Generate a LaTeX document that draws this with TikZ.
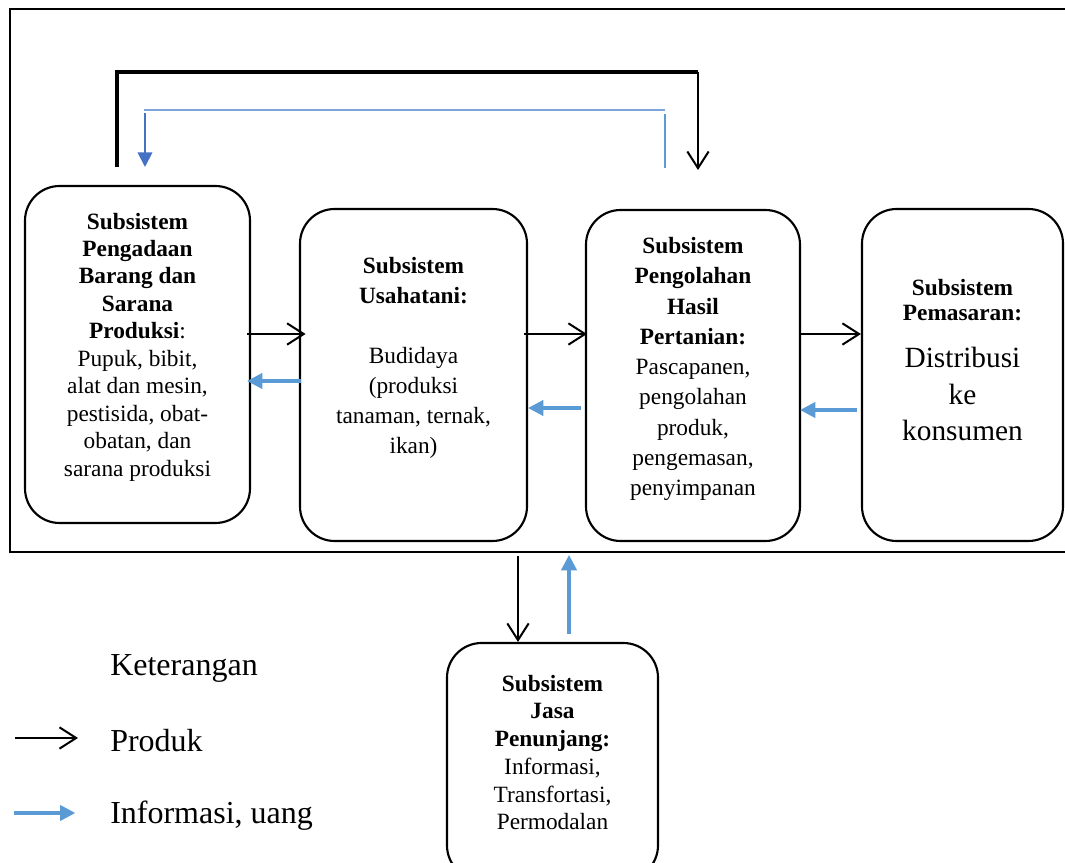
\documentclass[tikz,border=0pt]{standalone}
\usepackage{fontspec}
\setmainfont{Liberation Serif}
\usetikzlibrary{arrows.meta,calc,positioning}
\definecolor{infoblue}{RGB}{91,155,213}
\definecolor{lineblue}{RGB}{125,165,215}
\definecolor{darkblue}{RGB}{68,114,196}

\begin{document}
\begin{tikzpicture}[x=0.75pt,y=-0.75pt]
\tikzstyle{sub} = [draw=black,line width=1.6pt,rounded corners=26pt,inner sep=0pt]
\tikzstyle{txt} = [align=center,inner sep=0pt]
\tikzset{prod/.style={black,line width=1.5pt,-{Straight Barb[length=12.5pt,width=16pt,line width=1.5pt]}}}
\tikzset{info/.style={infoblue,line width=2.4pt,-{Triangle[length=11.5pt,width=11.5pt]}}}
\useasboundingbox (0,0) rectangle (1065,863);
\draw[line width=1.1pt] (10,9) rectangle (1075,552);

    % kotak subsistem
    \node[sub,minimum width=168.75pt,minimum height=252.75pt] (pengadaan) at (137.5,354.5) {};
    \node[sub,minimum width=170.25pt,minimum height=249pt] (usahatani) at (413.5,375) {};
    \node[sub,minimum width=160.5pt,minimum height=248.25pt] (pengolahan) at (693,375.5) {};
    \node[sub,minimum width=150.75pt,minimum height=249pt] (pemasaran) at (962.5,375) {};
    \node[sub,minimum width=158.25pt,minimum height=177.75pt] (jasa) at (552.5,761.5) {};

    \node[txt,font=\fontsize{17.5}{20.6}\selectfont] (tpengadaan) at ($(pengadaan.center)+(0,-7.5)$)
      {\textbf{Subsistem}\\ \textbf{Pengadaan}\\ \textbf{Barang dan}\\ \textbf{Sarana}\\ \textbf{Produksi}:\\
       Pupuk, bibit,\\ alat dan mesin,\\ pestisida, obat-\\ obatan, dan\\ sarana produksi};
    \node[txt,font=\fontsize{17.5}{22.5}\selectfont] (tusahatani) at ($(usahatani.center)+(0,-17)$)
      {\textbf{Subsistem}\\ \textbf{Usahatani:}\\[22.5pt] Budidaya\\ (produksi\\ tanaman, ternak,\\ ikan)};
    \node[txt,font=\fontsize{17.5}{22.7}\selectfont] (tpengolahan) at ($(pengolahan.center)+(0,-6.5)$)
      {\textbf{Subsistem}\\ \textbf{Pengolahan}\\ \textbf{Hasil}\\ \textbf{Pertanian:}\\
       Pascapanen,\\ pengolahan\\ produk,\\ pengemasan,\\ penyimpanan};
    \node[txt,font=\fontsize{17.5}{18.75}\selectfont\bfseries] (hpemasaran) at (962.5,300.5)
      {Subsistem\\ Pemasaran:};
    \node[txt,font=\fontsize{22}{27.4}\selectfont] (tpemasaran) at (962.5,394)
      {Distribusi\\ ke\\ konsumen};
    \node[txt,font=\fontsize{17.5}{20.8}\selectfont] (tjasa) at (552.5,752.5)
      {\textbf{Subsistem}\\ \textbf{Jasa}\\ \textbf{Penunjang:}\\ Informasi,\\ Transfortasi,\\ Permodalan};

    % aliran antar subsistem
    \coordinate (ra) at (0,334);
    \coordinate (rb1) at (0,381);
    \coordinate (rb2) at (0,408);
    \coordinate (rb3) at (0,410);
    \draw[prod,shorten <=-3pt,shorten >=-5pt] (pengadaan.east |- ra) -- (usahatani.west |- ra);
    \draw[prod,shorten <=-3pt,shorten >=-1.5pt] (usahatani.east |- ra) -- (pengolahan.west |- ra);
    \draw[prod] (pengolahan.east |- ra) -- (pemasaran.west |- ra);
    \draw[info,shorten <=-1.5pt,shorten >=-3pt] (usahatani.west |- rb1) -- (pengadaan.east |- rb1);
    \draw[info,shorten <=3pt] (pengolahan.west |- rb2) -- (usahatani.east |- rb2);
    \draw[info,shorten <=3pt,shorten >=-0.75pt] (pemasaran.west |- rb3) -- (pengolahan.east |- rb3);

    % aliran atas
    \coordinate (ka) at (117,167);
    \coordinate (kb) at (117,72);
    \coordinate (kc) at (698,72);
    \coordinate (kd) at (698,170);
    \draw[line width=2.6pt] (ka) -- (kb) -- (kc);
    \draw[prod] (kc) -- (kd);
    \coordinate (ia) at (144,110);
    \coordinate (ib) at (665,110);
    \coordinate (ic) at (665,168);
    \coordinate (id) at (665,114);
    \coordinate (ie) at (145,113);
    \coordinate (if) at (145,167);
    \draw[lineblue,line width=1.6pt] (ia) -- (ib);
    \draw[infoblue,line width=1.8pt] (ic) -- (id);
    \draw[darkblue,line width=1.4pt,-{Triangle[length=11pt,width=11pt]}] (ie) -- (if);

    % aliran bawah
    \coordinate (fa) at (518,556);
    \coordinate (fc) at (569,555);
    \draw[prod,line width=2pt] (fa) -- (jasa.north -| fa);
    \draw[info,shorten <=6pt] (jasa.north -| fc) -- (fc);

    % keterangan
    \tikzset{every node/.style={anchor=west,inner sep=0pt,font=\fontsize{24}{28}\selectfont}}
    \node (ket) at (110,668) {Keterangan};
    \node (lprod) at (110,741) {Produk};
    \node (linfo) at (110,816) {Informasi, uang};
    \coordinate (lgp) at (15,738);
    \coordinate (lgi) at (14,813);
    \draw[prod,shorten >=24pt] (lgp) -- (lprod.west |- lgp);
    \draw[info,shorten >=26pt] (lgi) -- (linfo.west |- lgi);
\end{tikzpicture}
\end{document}
